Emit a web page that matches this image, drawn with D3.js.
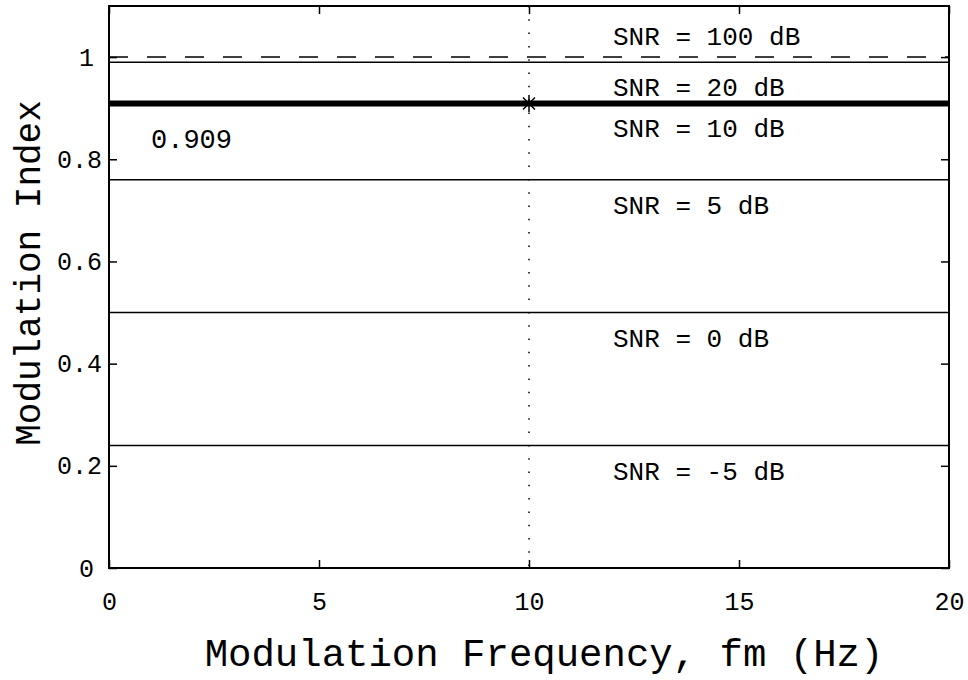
<!DOCTYPE html>
<html>
<head>
<meta charset="utf-8">
<script src="https://cdn.jsdelivr.net/npm/d3@7"></script>
<style>
  html, body { margin: 0; padding: 0; background: #fff; }
  svg { display: block; }
</style>
</head>
<body>
<div id="plot"></div>
<script>
// chart data
const snrDb = [100, 20, 10, 5, 0, -5];
const modIndex = [1.0, 0.990, 0.909, 0.760, 0.500, 0.240];
const labelX = 12;
const labelY = [1.04, 0.94, 0.86, 0.71, 0.45, 0.19];
const selectedSnr = 10;
const selectedFreq = 10;
const selectedText = '0.909';
const selectedTextPos = [1, 0.84];
const xDomain = [0, 20];
const yDomain = [0, 1.1];
const xTicks = [0, 5, 10, 15, 20];
const yTicks = [0, 0.2, 0.4, 0.6, 0.8, 1];
const xTitle = 'Modulation Frequency, fm (Hz)';
const yTitle = 'Modulation Index';

const plotChart = (plotId) => {

  // position and dimensions
  const margin = { top: 6, right: 19, bottom: 112, left: 109 };
  const width = 968 - margin.left - margin.right;
  const height = 680 - margin.top - margin.bottom;
  const font = '"Liberation Mono", "Courier New", monospace';

  const svg = d3.select(`#${plotId}`)
    .append('svg')
    .attr('width', 968)
    .attr('height', 680)
    .style('background', '#fff')
    .append('g')
    .attr('transform', `translate(${margin.left},${margin.top})`);

  const x = d3.scaleLinear().domain(xDomain).range([0, width]);
  const y = d3.scaleLinear().domain(yDomain).range([height, 0]);

  // axes, ticks point inward like matlab
  const styleAxis = (g) => {
    g.select('.domain').remove();
    g.selectAll('line').attr('stroke', '#000').attr('stroke-width', 1.5);
    g.selectAll('text')
      .attr('fill', '#000')
      .style('font-family', font)
      .style('font-size', '25px');
  };

  svg.append('g')
    .attr('transform', `translate(0,${height})`)
    .call(d3.axisBottom(x).tickValues(xTicks).tickSizeInner(-8).tickSizeOuter(0).tickPadding(24))
    .call(styleAxis);

  svg.append('g')
    .call(d3.axisTop(x).tickValues(xTicks).tickSizeInner(-8).tickSizeOuter(0).tickFormat(''))
    .call(styleAxis);

  svg.append('g')
    .call(d3.axisLeft(y).tickValues(yTicks).tickSizeInner(-8).tickSizeOuter(0).tickPadding(7).tickFormat(d3.format('')))
    .call(styleAxis)
    .selectAll('text')
    .attr('dx', d => Number.isInteger(d) ? -8 : 0);

  svg.append('g')
    .attr('transform', `translate(${width},0)`)
    .call(d3.axisRight(y).tickValues(yTicks).tickSizeInner(-8).tickSizeOuter(0).tickFormat(''))
    .call(styleAxis);

  // vertical dotted line at the chosen frequency
  svg.append('line')
    .attr('x1', x(selectedFreq))
    .attr('x2', x(selectedFreq))
    .attr('y1', y(yDomain[1]))
    .attr('y2', y(yDomain[0]))
    .attr('stroke', '#000')
    .attr('stroke-width', 1.5)
    .attr('stroke-dasharray', '1.5,11.8');

  // horizontal snr lines
  snrDb.forEach((s, i) => {
    svg.append('line')
      .attr('x1', x(xDomain[0]))
      .attr('x2', x(xDomain[1]))
      .attr('y1', y(modIndex[i]))
      .attr('y2', y(modIndex[i]))
      .attr('stroke', '#000')
      .attr('stroke-width', s === selectedSnr ? 6 : 1.5)
      .attr('stroke-dasharray', i === 0 ? '19,19' : null);

    svg.append('text')
      .attr('x', x(labelX))
      .attr('y', y(labelY[i]))
      .attr('dy', '0.33em')
      .attr('fill', '#000')
      .style('font-family', font)
      .style('font-size', '26px')
      .style('white-space', 'pre')
      .text(`SNR = ${s} dB`);
  });

  // star marker on the chosen point
  const sel = modIndex[snrDb.indexOf(selectedSnr)];
  const cx = x(selectedFreq);
  const cy = y(sel);
  const arms = [[0, 8.5], [8, 0], [6, 6], [6, -6]];
  arms.forEach(([dx, dy]) => {
    svg.append('line')
      .attr('x1', cx - dx).attr('y1', cy - dy)
      .attr('x2', cx + dx).attr('y2', cy + dy)
      .attr('stroke', '#000')
      .attr('stroke-width', 1.5);
  });

  svg.append('text')
    .attr('x', x(selectedTextPos[0]))
    .attr('y', y(selectedTextPos[1]))
    .attr('dy', '0.33em')
    .attr('fill', '#000')
    .style('font-family', font)
    .style('font-size', '27px')
    .text(selectedText);

  // plot box
  svg.append('rect')
    .attr('x', 0)
    .attr('y', 0)
    .attr('width', width)
    .attr('height', height)
    .attr('fill', 'none')
    .attr('stroke', '#000')
    .attr('stroke-width', 2);

  // axis titles
  svg.append('text')
    .attr('x', width / 2 + 15)
    .attr('y', height + 98)
    .attr('text-anchor', 'middle')
    .attr('fill', '#000')
    .style('font-family', font)
    .style('font-size', '39px')
    .text(xTitle);

  svg.append('text')
    .attr('transform', `translate(${40 - margin.left},${height / 2 - 14}) rotate(-90)`)
    .attr('text-anchor', 'middle')
    .attr('fill', '#000')
    .style('font-family', font)
    .style('font-size', '36px')
    .text(yTitle);
};

plotChart('plot');
</script>
</body>
</html>
